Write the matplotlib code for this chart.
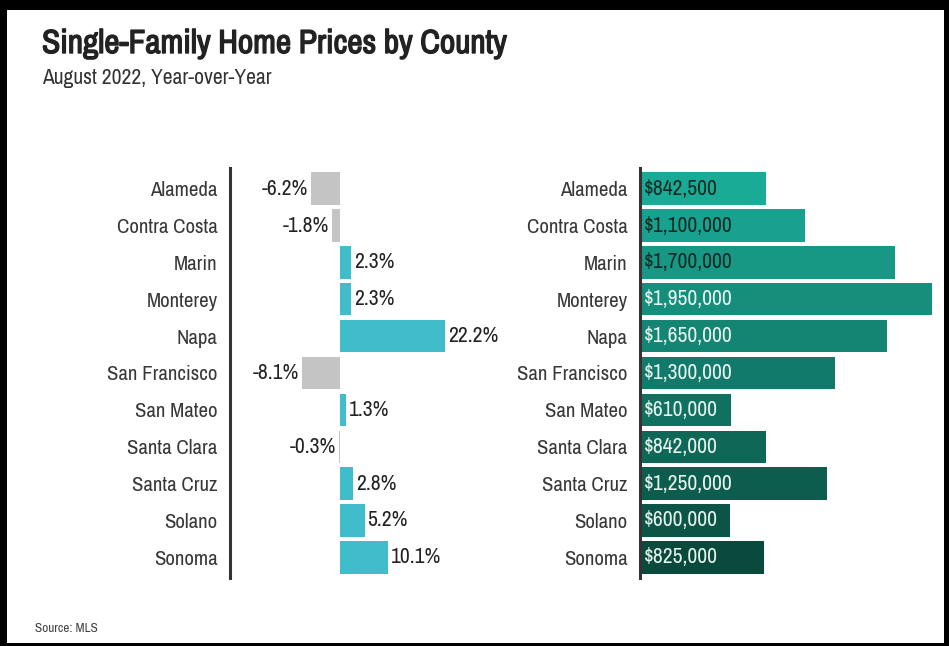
import numpy as np
import matplotlib.pyplot as plt
import matplotlib.patheffects as pe
from matplotlib import font_manager
from matplotlib.colors import to_rgb, to_hex
from matplotlib.patches import Rectangle

# pick a narrow face if the machine has one
fonts = font_manager.fontManager.ttflist
narrow = sorted({f.name for f in fonts
                 if "narrow" in f.name.lower() or "condensed" in f.name.lower()
                 or f.stretch in ("condensed", "semi-condensed", "extra-condensed")})
plt.rcParams["font.family"] = narrow[:1] + ["Liberation Sans", "DejaVu Sans"]
has_bold = bool(narrow) and any(
    f.name == narrow[0] and f.weight in ("bold", 700, 600, "semibold", 800) for f in fonts)

counties = ["Alameda", "Contra Costa", "Marin", "Monterey", "Napa", "San Francisco",
            "San Mateo", "Santa Clara", "Santa Cruz", "Solano", "Sonoma"]
yoy_change = [-6.2, -1.8, 2.3, 2.3, 22.2, -8.1, 1.3, -0.3, 2.8, 5.2, 10.1]
median_price = [842500, 1100000, 1700000, 1950000, 1650000, 1300000,
                610000, 842000, 1250000, 600000, 825000]

W, H = 949, 646
fig = plt.figure(figsize=(W / 100, H / 100), dpi=100)
fig.patch.set_facecolor("white")


def px_box(x0, x1, y_top, y_bot):
    return [x0 / W, 1 - y_bot / H, (x1 - x0) / W, (y_bot - y_top) / H]


TXT = "#383838"
LBL = 15
VAL = 15.5
y = np.arange(len(counties))

# left panel: year-over-year change
ax1 = fig.add_axes(px_box(230, 500, 168, 578))
pos_col, neg_col = "#41bccb", "#c4c4c4"
cols = [pos_col if v >= 0 else neg_col for v in yoy_change]
ax1.barh(y, yoy_change, height=0.88, color=cols)
ax1.set_xlim(-23.2, 33.7)
ax1.set_ylim(10.56, -0.56)
for i, v in enumerate(yoy_change):
    if v >= 0:
        ax1.annotate(f"{v:.1f}%", (v, i), xytext=(2, 0), textcoords="offset points",
                     ha="left", va="center", fontsize=VAL, color="#222222")
    else:
        ax1.annotate(f"{v:.1f}%", (v, i), xytext=(-2, 0), textcoords="offset points",
                     ha="right", va="center", fontsize=VAL, color="#222222")

# right panel: median price
ax2 = fig.add_axes(px_box(640, 940, 168, 578))
c0, c1 = np.array(to_rgb("#1aab97")), np.array(to_rgb("#0a4a3c"))
greens = [to_hex(c0 + (c1 - c0) * t) for t in np.linspace(0, 1, len(counties))]
ax2.barh(y, median_price, height=0.88, color=greens)
ax2.set_xlim(0, 2.0035e6)
ax2.set_ylim(10.56, -0.56)
for i, v in enumerate(median_price):
    tc = "#142a24" if i < 3 else "#e8f4ef"
    ax2.annotate(f"${v:,}", (0, i), xytext=(3, 0), textcoords="offset points",
                 ha="left", va="center", fontsize=VAL, color=tc)

for ax in (ax1, ax2):
    ax.set_yticks(y)
    ax.set_yticklabels(counties, fontsize=LBL, color=TXT)
    ax.tick_params(axis="y", length=0, pad=9)
    ax.set_xticks([])
    for s in ("top", "right", "bottom"):
        ax.spines[s].set_visible(False)
    ax.spines["left"].set_color("#333333")
    ax.spines["left"].set_linewidth(2.2)
    ax.set_facecolor("none")

title = fig.text(42 / W, 1 - 44 / H, "Single-Family Home Prices by County", fontsize=24,
                 fontweight="bold", color="#222222", va="center", ha="left")
if not has_bold:
    title.set_path_effects([pe.withStroke(linewidth=1.0, foreground="#222222")])
fig.text(42 / W, 1 - 78 / H, "August 2022, Year-over-Year", fontsize=15.5,
         color="#333333", va="center", ha="left")
fig.text(35 / W, 1 - 629 / H, "Source: MLS", fontsize=9.5, color="#444444",
         va="center", ha="left")

# frame around the graphic
for (x0, y0, w, h) in [(0, 0, W, 10), (0, 0, 7, H), (W - 5, 0, 5, H), (0, H - 3, W, 3)]:
    fig.add_artist(Rectangle((x0 / W, 1 - (y0 + h) / H), w / W, h / H,
                             transform=fig.transFigure, color="black", lw=0))

fig.savefig("out.png", dpi=100)
